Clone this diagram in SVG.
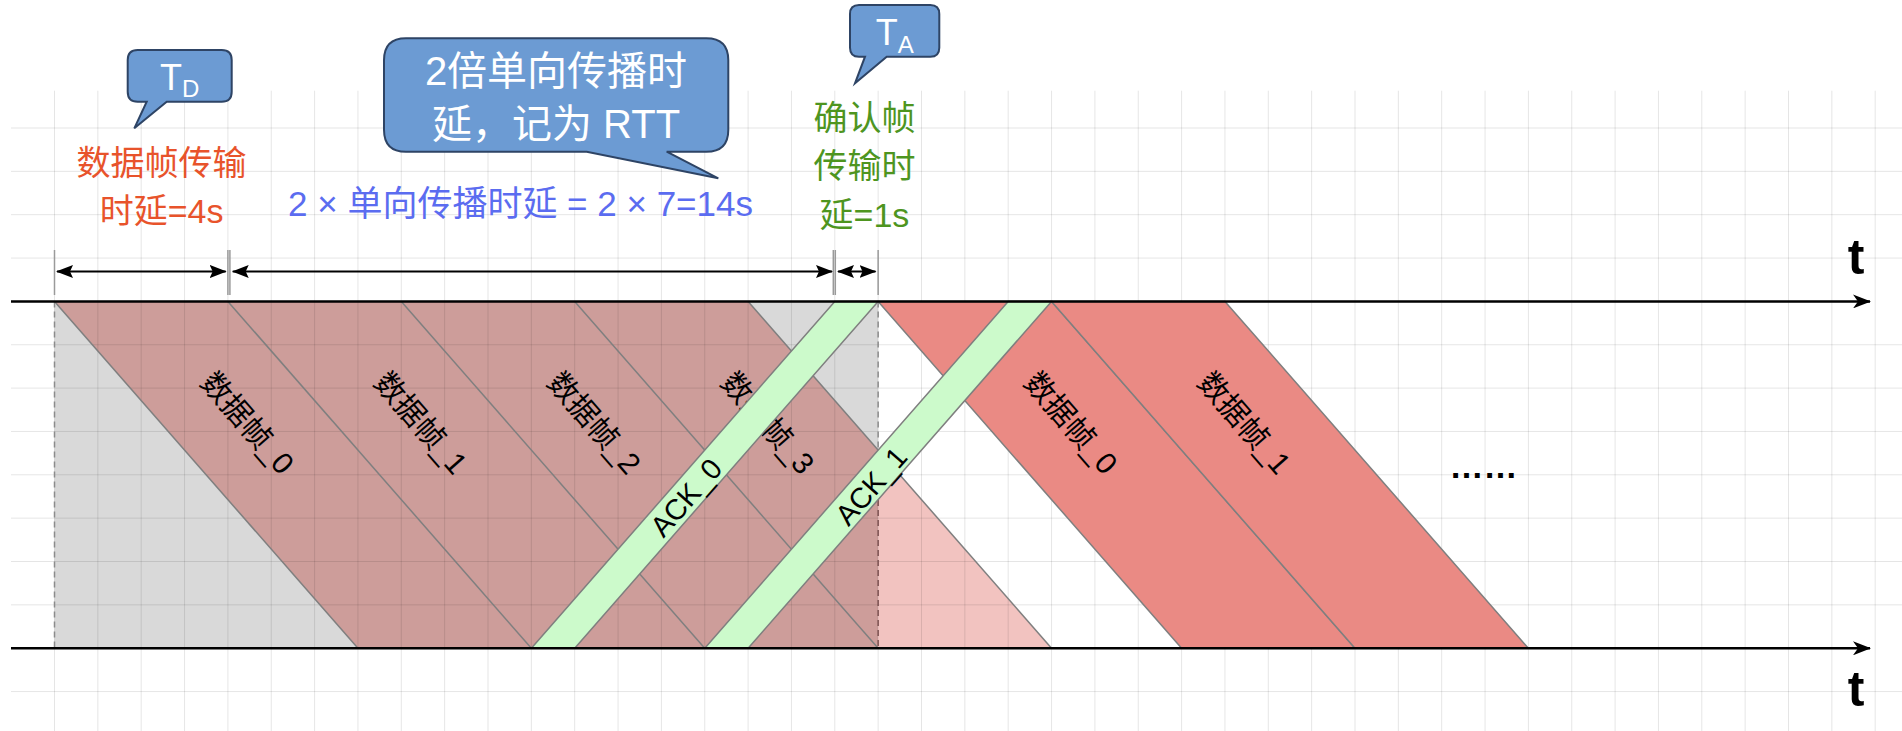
<svg xmlns="http://www.w3.org/2000/svg" width="1902" height="731" viewBox="0 0 1902 731">
  <style>
    .grid { stroke:#000; stroke-opacity:0.1; stroke-width:1; fill:none; }
    .edge { stroke:#7f7f7f; stroke-width:1.5; fill:none; }
    .shape { stroke:#7f7f7f; stroke-width:1.5; }
    .newframe { fill:#EA8A84; }
    .ack { fill:#CCFACB; }
    .lbl { font-family:"Liberation Sans","Noto Sans CJK SC",sans-serif; font-size:30px; fill:#000; text-anchor:middle; }
    .ackl { font-family:"Liberation Sans","Noto Sans CJK SC",sans-serif; font-size:29px; fill:#000; text-anchor:middle; }
    .txt { font-family:"Liberation Sans","Noto Sans CJK SC",sans-serif; text-anchor:middle; }
    .callout { fill:#6C9BD3; stroke:#2E4465; stroke-width:2; }
    .dim { stroke:#000; stroke-width:2; fill:none; }
    .tick { stroke:#9a9a9a; stroke-width:1.5; }
    .axis { stroke:#000; stroke-width:2.5; fill:none; }
    .dash { stroke-width:1.5; stroke-dasharray:6 4; fill:none; }
  </style>
  <defs>
    <marker id="dimArrow" markerUnits="userSpaceOnUse" markerWidth="17" markerHeight="13" viewBox="0 0 17 13" refX="16" refY="6.5" orient="auto-start-reverse">
      <path d="M0,0 L17,6.5 L0,13 L3,6.5 Z" fill="#000"/>
    </marker>
    <marker id="axisArrow" markerUnits="userSpaceOnUse" markerWidth="18" markerHeight="14" viewBox="0 0 18 14" refX="17" refY="7" orient="auto">
      <path d="M0,0 L18,7 L0,14 L5,7 Z" fill="#000"/>
    </marker>
  </defs>

  <rect x="0" y="0" width="1902" height="731" fill="#fff"/>

  <!-- shaded background regions of the first window -->
  <g id="window-region">
    <rect x="54.5" y="301.4" width="823.65" height="346.9" fill="#D9D9D9"/>
    <polygon points="54.5,301.4 748.1,301.4 878.15,450.07 878.15,648.3 357.95,648.3" fill="#CD9D9A"/>
    <polygon points="878.15,450.07 1051.55,648.3 878.15,648.3" fill="#F2C3C0"/>
  </g>

  <!-- grid -->
  <g id="grid" class="grid">
    <path d="M54.5,90.7V731 M97.85,90.7V731 M141.2,90.7V731 M184.55,90.7V731 M227.9,90.7V731 M271.25,90.7V731 M314.6,90.7V731 M357.95,90.7V731 M401.3,90.7V731 M444.65,90.7V731 M488,90.7V731 M531.35,90.7V731 M574.7,90.7V731 M618.05,90.7V731 M661.4,90.7V731 M704.75,90.7V731 M748.1,90.7V731 M791.45,90.7V731 M834.8,90.7V731 M878.15,90.7V731 M921.5,90.7V731 M964.85,90.7V731 M1008.2,90.7V731 M1051.55,90.7V731 M1094.9,90.7V731 M1138.25,90.7V731 M1181.6,90.7V731 M1224.95,90.7V731 M1268.3,90.7V731 M1311.65,90.7V731 M1355,90.7V731 M1398.35,90.7V731 M1441.7,90.7V731 M1485.05,90.7V731 M1528.4,90.7V731 M1571.75,90.7V731 M1615.1,90.7V731 M1658.45,90.7V731 M1701.8,90.7V731 M1745.15,90.7V731 M1788.5,90.7V731 M1831.85,90.7V731 M1875.2,90.7V731"/>
    <path d="M11,128H1902 M11,171.35H1902 M11,214.7H1902 M11,258.05H1902 M11,344.75H1902 M11,388.1H1902 M11,431.45H1902 M11,474.8H1902 M11,518.15H1902 M11,561.5H1902 M11,604.85H1902 M11,691.55H1902"/>
  </g>

  <!-- first window data frames (sent, awaiting ACK) -->
  <g id="frame-old-0">
    <line class="edge" x1="54.5" y1="301.4" x2="357.95" y2="648.3"/>
    <text class="lbl" transform="translate(247.5,423) rotate(48.82)" dy="0.35em">数据帧_0</text>
  </g>
  <g id="frame-old-1">
    <line class="edge" x1="227.9" y1="301.4" x2="531.35" y2="648.3"/>
    <text class="lbl" transform="translate(420.9,423) rotate(48.82)" dy="0.35em">数据帧_1</text>
  </g>
  <g id="frame-old-2">
    <line class="edge" x1="401.3" y1="301.4" x2="704.75" y2="648.3"/>
    <text class="lbl" transform="translate(594.3,423) rotate(48.82)" dy="0.35em">数据帧_2</text>
  </g>
  <g id="frame-old-3">
    <line class="edge" x1="574.7" y1="301.4" x2="878.15" y2="648.3"/>
    <line class="edge" x1="748.1" y1="301.4" x2="1051.55" y2="648.3"/>
    <text class="lbl" transform="translate(767.7,423) rotate(48.82)" dy="0.35em">数据帧_3</text>
  </g>

  <g id="window-bounds">
    <line class="dash" stroke="#8c8c8c" x1="54.5" y1="301.4" x2="54.5" y2="648.3"/>
    <line class="dash" stroke="#8c8c8c" x1="878.15" y1="301.4" x2="878.15" y2="450"/>
    <line class="dash" stroke="#7d5252" x1="878.15" y1="450" x2="878.15" y2="648.3"/>
  </g>

  <!-- new data frames -->
  <g id="frame-new-0">
    <polygon class="newframe shape" points="878.15,301.4 1051.55,301.4 1355,648.3 1181.6,648.3"/>
    <text class="lbl" transform="translate(1071,423) rotate(48.82)" dy="0.35em">数据帧_0</text>
  </g>
  <g id="frame-new-1">
    <polygon class="newframe shape" points="1051.55,301.4 1224.95,301.4 1528.4,648.3 1355,648.3"/>
    <text class="lbl" transform="translate(1244.4,423) rotate(48.82)" dy="0.35em">数据帧_1</text>
  </g>

  <!-- ACK frames -->
  <g id="ack-0">
    <polygon class="ack shape" points="531.35,648.3 574.7,648.3 878.15,301.4 834.8,301.4"/>
    <text class="ackl" transform="translate(686,497.5) rotate(-48.82)" dy="0.35em">ACK_0</text>
  </g>
  <g id="ack-1">
    <polygon class="ack shape" points="704.75,648.3 748.1,648.3 1051.55,301.4 1008.2,301.4"/>
    <text class="ackl" transform="translate(871,486) rotate(-48.82)" dy="0.35em">ACK_1</text>
  </g>

  <g id="ellipsis">
    <text class="txt" x="1483.5" y="478" font-size="34" font-weight="bold" fill="#000">……</text>
  </g>

  <!-- connectors: axes and dimension arrows -->
  <g id="connectors">
    <line class="axis" x1="11" y1="301.4" x2="1870" y2="301.4" marker-end="url(#axisArrow)"/>
    <line class="axis" x1="11" y1="648.3" x2="1870" y2="648.3" marker-end="url(#axisArrow)"/>
    <line class="tick" x1="54.5" y1="250" x2="54.5" y2="295"/>
    <line class="tick" x1="227.9" y1="250" x2="227.9" y2="295"/>
    <line class="tick" x1="229.9" y1="250" x2="229.9" y2="295"/>
    <line class="tick" x1="833.3" y1="250" x2="833.3" y2="295"/>
    <line class="tick" x1="835.3" y1="250" x2="835.3" y2="295"/>
    <line class="tick" x1="878.15" y1="250" x2="878.15" y2="295"/>
    <line class="dim" x1="57" y1="271.5" x2="225.7" y2="271.5" marker-start="url(#dimArrow)" marker-end="url(#dimArrow)"/>
    <line class="dim" x1="232.7" y1="271.5" x2="832" y2="271.5" marker-start="url(#dimArrow)" marker-end="url(#dimArrow)"/>
    <line class="dim" x1="838" y1="271.5" x2="875.5" y2="271.5" marker-start="url(#dimArrow)" marker-end="url(#dimArrow)"/>
  </g>

  <g id="axis-labels">
    <text class="txt" x="1856" y="274" font-size="50" font-weight="bold" fill="#000">t</text>
    <text class="txt" x="1856" y="706" font-size="50" font-weight="bold" fill="#000">t</text>
  </g>

  <!-- annotation texts -->
  <g id="label-td">
    <text class="txt" x="161.6" y="175" font-size="34" fill="#E8532B">数据帧传输</text>
    <text class="txt" x="161.6" y="222.5" font-size="34" fill="#E8532B">时延=4s</text>
  </g>
  <g id="label-rtt">
    <text class="txt" x="520.5" y="216" font-size="35" fill="#5B6CF0">2 × 单向传播时延 = 2 × 7=14s</text>
  </g>
  <g id="label-ta">
    <text class="txt" x="864.5" y="129.5" font-size="34" fill="#4E951F">确认帧</text>
    <text class="txt" x="864.5" y="178" font-size="34" fill="#4E951F">传输时</text>
    <text class="txt" x="864.5" y="226.5" font-size="34" fill="#4E951F">延=1s</text>
  </g>

  <!-- callouts -->
  <g id="callout-td">
    <path class="callout" d="M137.7,50 H221.7 Q231.7,50 231.7,60 V91.7 Q231.7,101.7 221.7,101.7 H166.7 L134.3,128.3 L146.7,101.7 H137.7 Q127.7,101.7 127.7,91.7 V60 Q127.7,50 137.7,50 Z"/>
    <text class="txt" x="179.7" y="90" font-size="36" fill="#fff">T<tspan font-size="24" dy="7">D</tspan></text>
  </g>
  <g id="callout-rtt">
    <path class="callout" d="M406,38.3 H706.3 Q728.3,38.3 728.3,60.3 V129.7 Q728.3,151.7 706.3,151.7 H666.7 L718.3,178.3 L586.7,151.7 H406 Q384,151.7 384,129.7 V60.3 Q384,38.3 406,38.3 Z"/>
    <text class="txt" x="556" y="85" font-size="40" fill="#fff">2倍单向传播时</text>
    <text class="txt" x="556" y="138.3" font-size="40" fill="#fff">延，记为 RTT</text>
  </g>
  <g id="callout-ta">
    <path class="callout" d="M859,5 H930.3 Q939.3,5 939.3,14 V47.7 Q939.3,56.7 930.3,56.7 H886.7 L855,83.3 L865,56.7 H859 Q850,56.7 850,47.7 V14 Q850,5 859,5 Z"/>
    <text class="txt" x="894.7" y="45" font-size="36" fill="#fff">T<tspan font-size="24" dy="7.5">A</tspan></text>
  </g>
</svg>
